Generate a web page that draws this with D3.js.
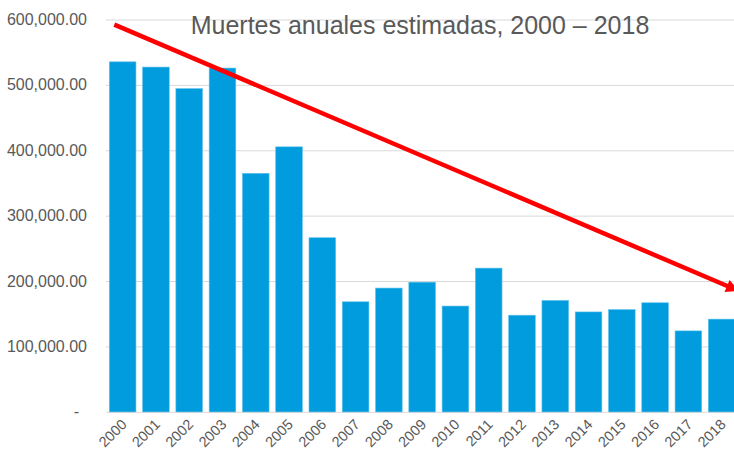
<!DOCTYPE html>
<html>
<head>
<meta charset="utf-8">
<script src="https://cdn.jsdelivr.net/npm/d3@7"></script>
<style>
body{ margin:0; background:#fff; font-family:"Liberation Sans", Arial, sans-serif; }
</style>
</head>
<body>
<svg id="chart" width="734" height="455"></svg>
<script>
var years = ["2000","2001","2002","2003","2004","2005","2006","2007","2008","2009",
	"2010","2011","2012","2013","2014","2015","2016","2017","2018"];
var deaths = [536000, 528000, 495000, 526500, 365500, 406000, 267000, 169000, 190000, 199000,
	162500, 220500, 148500, 171000, 153500, 157000, 167500, 124500, 142500];
var yTicks = [0, 100000, 200000, 300000, 400000, 500000, 600000];
var title = "Muertes anuales estimadas, 2000 \u2013 2018";
// trend arrow, in (year index, value)
var trendStart = [-0.25, 593000];
var trendEnd = [18.45, 187000];

var svg = d3.select("#chart");
var plotLeft = 106, plotRight = 738.3, plotTop = 20, plotBottom = 412.3;

var x = d3.scaleBand().domain(years).range([plotLeft, plotRight]).paddingInner(0.2).paddingOuter(0.1);
var y = d3.scaleLinear().domain([0, 600000]).range([plotBottom, plotTop]);
var xi = d3.scaleLinear().domain([0, years.length - 1])
	.range([x(years[0]) + x.bandwidth()/2, x(years[years.length-1]) + x.bandwidth()/2]);

// gridlines
svg.append("g").selectAll("line").data(yTicks.slice(1)).enter().append("line")
	.attr("x1", plotLeft).attr("x2", plotRight)
	.attr("y1", function(d){ return y(d); }).attr("y2", function(d){ return y(d); })
	.attr("stroke", "#d9d9d9").attr("stroke-width", 1);

// y labels
var fmt = d3.format(",.2f");
svg.append("g").selectAll("text").data(yTicks).enter().append("text")
	.attr("x", function(d){ return d == 0 ? 79 : 87; })
	.attr("y", function(d){ return y(d) + 5; })
	.attr("text-anchor", "end")
	.attr("font-size", "16px")
	.attr("fill", "#595959")
	.text(function(d){ return d == 0 ? "-" : fmt(d); });

// bars
svg.append("g").selectAll("rect").data(deaths).enter().append("rect")
	.attr("x", function(d, i){ return x(years[i]); })
	.attr("y", function(d){ return y(d); })
	.attr("width", x.bandwidth())
	.attr("height", function(d){ return plotBottom - y(d); })
	.attr("fill", "#009cde")
	.attr("stroke", "#5cc0ec")
	.attr("stroke-width", 0.6);

// x axis line
svg.append("line")
	.attr("x1", plotLeft).attr("x2", plotRight)
	.attr("y1", plotBottom).attr("y2", plotBottom)
	.attr("stroke", "#d9d9d9").attr("stroke-width", 1);

// x labels
svg.append("g").selectAll("text").data(years).enter().append("text")
	.attr("transform", function(d){
		var cx = x(d) + x.bandwidth()/2 + 5;
		return "translate(" + cx + "," + (plotBottom + 13) + ") rotate(-45)";
	})
	.attr("text-anchor", "end")
	.attr("font-size", "14.5px")
	.attr("fill", "#595959")
	.text(function(d){ return d; });

// title
svg.append("text")
	.attr("x", 420).attr("y", 34)
	.attr("text-anchor", "middle")
	.attr("font-size", "25px")
	.attr("fill", "#595959")
	.text(title);

// arrow
svg.append("defs").append("marker")
	.attr("id", "head")
	.attr("markerUnits", "userSpaceOnUse")
	.attr("viewBox", "0 0 10 10")
	.attr("refX", 8).attr("refY", 5)
	.attr("markerWidth", 14).attr("markerHeight", 13)
	.attr("orient", "auto")
	.append("path").attr("d", "M0,0 L10,5 L0,10 Z").attr("fill", "#ff0000");

svg.append("line")
	.attr("x1", xi(trendStart[0])).attr("y1", y(trendStart[1]))
	.attr("x2", xi(trendEnd[0])).attr("y2", y(trendEnd[1]))
	.attr("stroke", "#ff0000").attr("stroke-width", 4.5)
	.attr("marker-end", "url(#head)");
</script>
</body>
</html>
